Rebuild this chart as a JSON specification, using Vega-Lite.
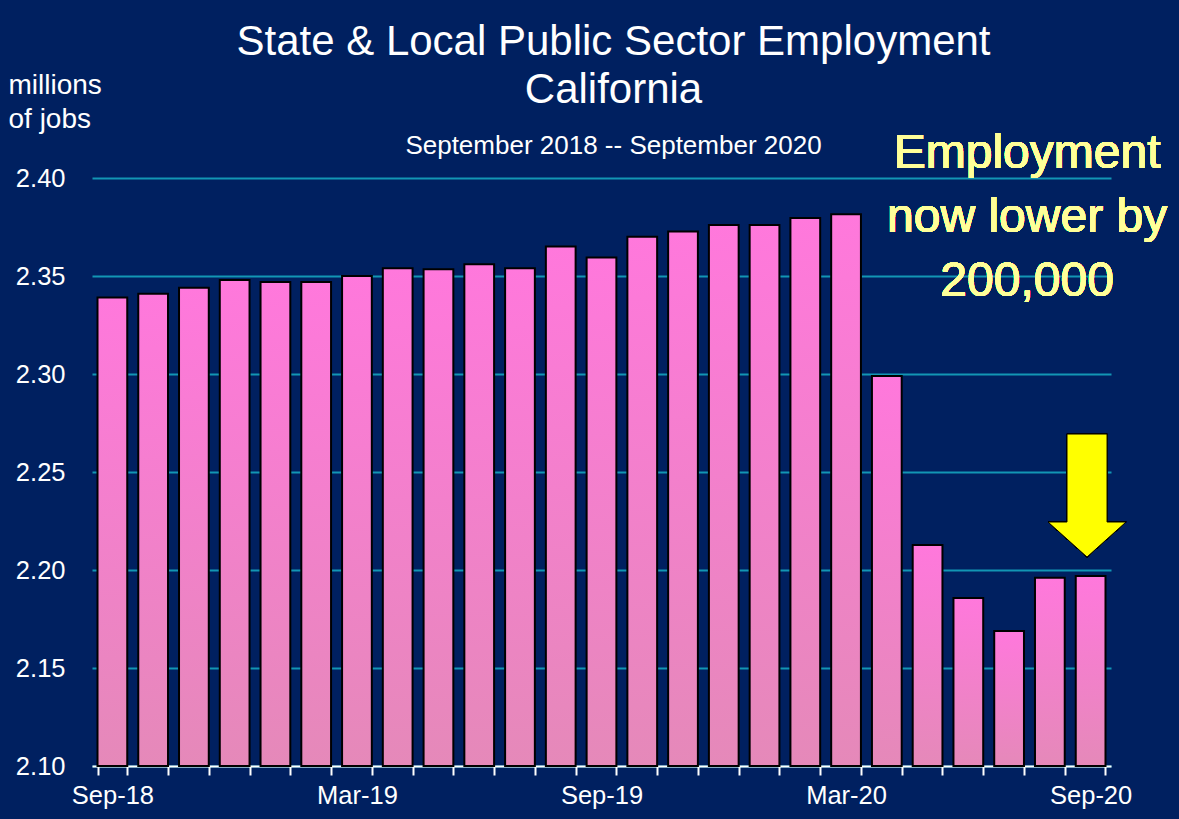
{
  "$schema": "https://vega.github.io/schema/vega-lite/v6.json",
  "autosize": {"type": "none"},
  "width": 1019,
  "height": 588,
  "padding": {"left": 92, "top": 178, "right": 68, "bottom": 53},
  "background": "#002060",
  "config": {
    "view": {"stroke": null},
    "font": "Liberation Sans"
  },
  "title": {
    "text": ["State & Local Public Sector Employment", "California"],
    "subtitle": "September 2018 -- September 2020",
    "anchor": "middle",
    "dx": 12,
    "font": "Liberation Sans",
    "fontSize": 42,
    "fontWeight": "normal",
    "lineHeight": 48,
    "color": "white",
    "subtitleFont": "Liberation Sans",
    "subtitleFontSize": 26,
    "subtitleColor": "white",
    "subtitlePadding": 21,
    "offset": -89
  },
  "data": {
    "values": [
      {"month": "Sep-18", "jobs": 2.339},
      {"month": "Oct-18", "jobs": 2.341},
      {"month": "Nov-18", "jobs": 2.344},
      {"month": "Dec-18", "jobs": 2.348},
      {"month": "Jan-19", "jobs": 2.347},
      {"month": "Feb-19", "jobs": 2.347},
      {"month": "Mar-19", "jobs": 2.350},
      {"month": "Apr-19", "jobs": 2.354},
      {"month": "May-19", "jobs": 2.3535},
      {"month": "Jun-19", "jobs": 2.356},
      {"month": "Jul-19", "jobs": 2.354},
      {"month": "Aug-19", "jobs": 2.365},
      {"month": "Sep-19", "jobs": 2.3595},
      {"month": "Oct-19", "jobs": 2.370},
      {"month": "Nov-19", "jobs": 2.3727},
      {"month": "Dec-19", "jobs": 2.376},
      {"month": "Jan-20", "jobs": 2.376},
      {"month": "Feb-20", "jobs": 2.3796},
      {"month": "Mar-20", "jobs": 2.3815},
      {"month": "Apr-20", "jobs": 2.299},
      {"month": "May-20", "jobs": 2.2128},
      {"month": "Jun-20", "jobs": 2.1857},
      {"month": "Jul-20", "jobs": 2.1689},
      {"month": "Aug-20", "jobs": 2.1961},
      {"month": "Sep-20", "jobs": 2.1969}
    ]
  },
  "layer": [
    {
      "mark": {
        "type": "bar",
        "stroke": "black",
        "strokeWidth": 2,
        "color": {
          "gradient": "linear",
          "x1": 0, "y1": 0, "x2": 0, "y2": 1,
          "stops": [
            {"offset": 0, "color": "#FF78DC"},
            {"offset": 1, "color": "#E589B9"}
          ]
        }
      },
      "encoding": {
        "x": {
          "field": "month",
          "type": "ordinal",
          "sort": null,
          "scale": {"paddingInner": 0.27, "paddingOuter": 0.135},
          "axis": {
            "title": null,
            "labelAngle": 0,
            "labelExpr": "indexof(['Sep-18','Mar-19','Sep-19','Mar-20','Sep-20'], datum.value) >= 0 ? datum.value : ''",
            "labelColor": "white",
            "labelFont": "Liberation Sans",
            "labelFontSize": 25.5,
            "labelPadding": 8,
            "labelOverlap": false,
            "tickBand": "extent",
            "tickColor": "white",
            "tickWidth": 2,
            "tickSize": 9,
            "domainColor": "white",
            "domainWidth": 2,
            "grid": false
          }
        },
        "y": {
          "field": "jobs",
          "type": "quantitative",
          "scale": {"domain": [2.1, 2.4], "zero": false, "nice": false},
          "axis": {
            "values": [2.1, 2.15, 2.2, 2.25, 2.3, 2.35, 2.4],
            "format": ".2f",
            "labelColor": "white",
            "labelFont": "Liberation Sans",
            "labelFontSize": 25.5,
            "labelPadding": 27,
            "ticks": false,
            "domain": false,
            "grid": true,
            "gridColor": "#1296B4",
            "gridWidth": 2,
            "title": ["millions", "of jobs"],
            "titleColor": "white",
            "titleFont": "Liberation Sans",
            "titleFontSize": 28,
            "titleFontWeight": "normal",
            "titleAngle": 0,
            "titleAlign": "left",
            "titleBaseline": "alphabetic",
            "titleLineHeight": 34,
            "titleX": -84,
            "titleY": -85
          }
        },
        "y2": {"datum": 2.1}
      }
    },
    {
      "mark": {
        "type": "text",
        "text": "Employment\nnow lower by\n200,000",
        "lineBreak": "\n",
        "lineHeight": 64,
        "align": "center",
        "baseline": "alphabetic",
        "font": "Liberation Sans",
        "fontSize": 48,
        "color": "#FFFF99",
        "dx": 18
      },
      "encoding": {
        "x": {"datum": "Jul-20"},
        "y": {"datum": 2.4051}
      }
    },
    {
      "mark": {
        "type": "point",
        "filled": true,
        "shape": "M-0.381,-0.992 L0.265,-0.992 L0.265,0.427 L0.571,0.427 L-0.058,0.992 L-0.687,0.427 L-0.381,0.427 Z",
        "size": 15376,
        "color": "#FFFF00",
        "stroke": "black",
        "strokeWidth": 1,
        "opacity": 1
      },
      "encoding": {
        "x": {"datum": "Sep-20"},
        "y": {"datum": 2.238}
      }
    }
  ]
}
